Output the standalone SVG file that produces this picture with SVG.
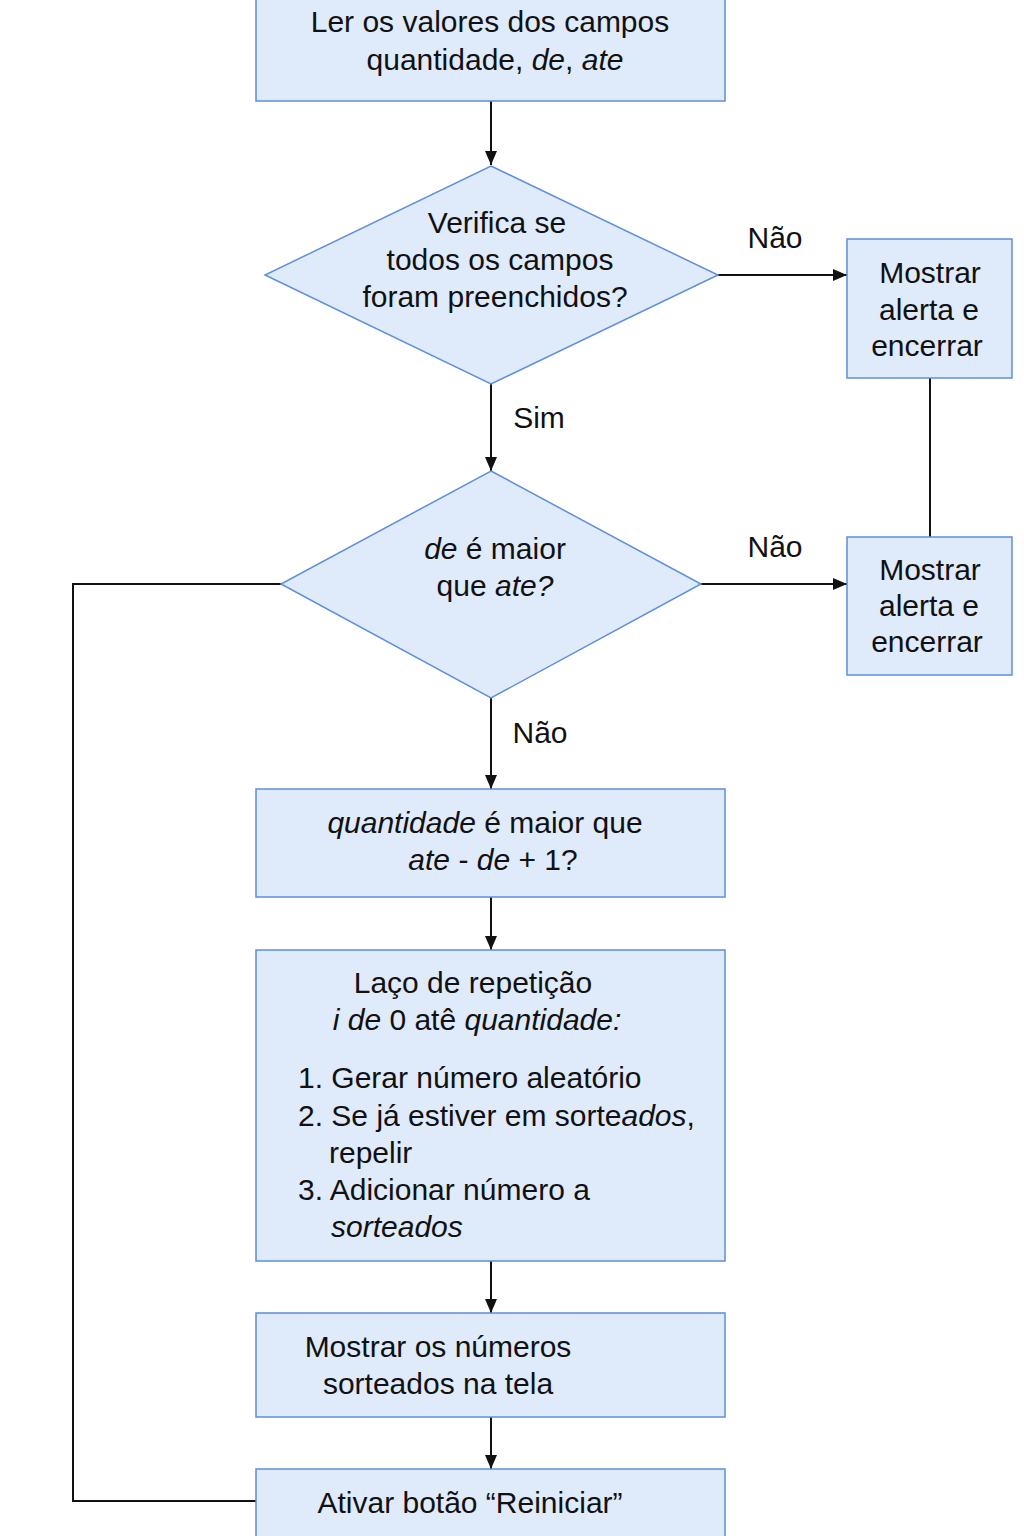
<svg xmlns="http://www.w3.org/2000/svg" width="1024" height="1536" viewBox="0 0 1024 1536">
<style>
.n{fill:#dfeafb;stroke:#5e8fd8;stroke-width:1.5}
.t{font-family:"Liberation Sans",Arial,sans-serif;font-size:30px;fill:#111}
.c{stroke:#111;stroke-width:2;fill:none}
.i{font-style:italic}
</style>
<defs>
<marker id="a" markerWidth="14" markerHeight="12" refX="14" refY="6" orient="auto" markerUnits="userSpaceOnUse" viewBox="0 0 14 12">
<path d="M0,0 L14,6 L0,12 Z" fill="#111"/>
</marker>
</defs>
<rect width="1024" height="1536" fill="#fff"/>
<g id="connectors">
<line class="c" x1="491" y1="101" x2="491" y2="165" marker-end="url(#a)"/>
<line class="c" x1="718" y1="275" x2="847" y2="275" marker-end="url(#a)"/>
<line class="c" x1="930" y1="378" x2="930" y2="537"/>
<line class="c" x1="491" y1="384" x2="491" y2="471" marker-end="url(#a)"/>
<line class="c" x1="701" y1="584" x2="847" y2="584" marker-end="url(#a)"/>
<polyline class="c" points="281,584 73,584 73,1501 256,1501"/>
<line class="c" x1="491" y1="698" x2="491" y2="789" marker-end="url(#a)"/>
<line class="c" x1="491" y1="897" x2="491" y2="950" marker-end="url(#a)"/>
<line class="c" x1="491" y1="1261" x2="491" y2="1313" marker-end="url(#a)"/>
<line class="c" x1="491" y1="1417" x2="491" y2="1469" marker-end="url(#a)"/>
<text class="t" x="775" y="248" text-anchor="middle">Não</text>
<text class="t" x="539" y="428" text-anchor="middle">Sim</text>
<text class="t" x="775" y="557" text-anchor="middle">Não</text>
<text class="t" x="540" y="743" text-anchor="middle">Não</text>
</g>
<g id="n1">
<rect class="n" x="256" y="-2" width="469" height="103"/>
<text class="t" x="490" y="32" text-anchor="middle">Ler os valores dos campos</text>
<text class="t" x="495" y="70" text-anchor="middle">quantidade, <tspan class="i">de</tspan>, <tspan class="i">ate</tspan></text>
</g>
<g id="d1">
<polygon class="n" points="491,166 718,275 491,384 265,275"/>
<text class="t" x="497" y="233" text-anchor="middle">Verifica se</text>
<text class="t" x="500" y="270" text-anchor="middle">todos os campos</text>
<text class="t" x="495" y="307" text-anchor="middle">foram preenchidos?</text>
</g>
<g id="r1">
<rect class="n" x="847" y="239" width="165" height="139"/>
<text class="t" x="930" y="283" text-anchor="middle">Mostrar</text>
<text class="t" x="929" y="320" text-anchor="middle">alerta  e</text>
<text class="t" x="927" y="356" text-anchor="middle">encerrar</text>
</g>
<g id="d2">
<polygon class="n" points="491,471 701,584 491,698 281,584"/>
<text class="t" x="495" y="559" text-anchor="middle"><tspan class="i">de</tspan> é maior</text>
<text class="t" x="495" y="596" text-anchor="middle">que <tspan class="i">ate?</tspan></text>
</g>
<g id="r2">
<rect class="n" x="847" y="537" width="165" height="138"/>
<text class="t" x="930" y="580" text-anchor="middle">Mostrar</text>
<text class="t" x="929" y="616" text-anchor="middle">alerta  e</text>
<text class="t" x="927" y="652" text-anchor="middle">encerrar</text>
</g>
<g id="n3">
<rect class="n" x="256" y="789" width="469" height="108"/>
<text class="t" x="485" y="833" text-anchor="middle"><tspan class="i">quantidade</tspan> é maior que</text>
<text class="t" x="493" y="870" text-anchor="middle"><tspan class="i">ate</tspan> - <tspan class="i">de</tspan> + 1?</text>
</g>
<g id="n4">
<rect class="n" x="256" y="950" width="469" height="311"/>
<text class="t" x="473" y="993" text-anchor="middle">Laço de repetição</text>
<text class="t" x="477" y="1030" text-anchor="middle"><tspan class="i">i de</tspan> 0  atê  <tspan class="i">quantidade:</tspan></text>
<text class="t" x="298" y="1088">1. Gerar número aleatório</text>
<text class="t" x="298" y="1126">2. Se já estiver em sorte<tspan class="i">ados</tspan>,</text>
<text class="t" x="329" y="1163">repelir</text>
<text class="t" x="298" y="1200">3. Adicionar número a</text>
<text class="t i" x="331" y="1237">sorteados</text>
</g>
<g id="n5">
<rect class="n" x="256" y="1313" width="469" height="104"/>
<text class="t" x="438" y="1357" text-anchor="middle">Mostrar os números</text>
<text class="t" x="438" y="1394" text-anchor="middle">sorteados na tela</text>
</g>
<g id="n6">
<rect class="n" x="256" y="1469" width="469" height="70"/>
<text class="t" x="470" y="1513" text-anchor="middle">Ativar botão “Reiniciar”</text>
</g>
</svg>
